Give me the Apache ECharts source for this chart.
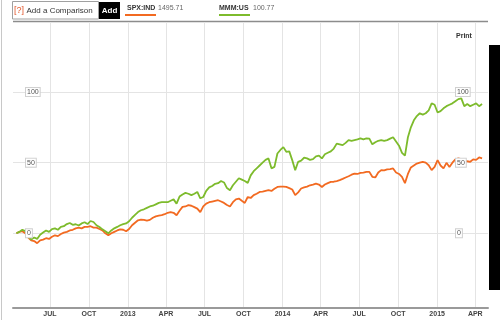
<!DOCTYPE html>
<html>
<head>
<meta charset="utf-8">
<script src="https://cdn.jsdelivr.net/npm/echarts@6/dist/echarts.min.js"></script>
<style>
html,body{margin:0;padding:0;background:#fff;}
#chart{width:500px;height:320px;}
</style>
</head>
<body>
<div id="chart"></div>
<script>
const dates = [
'2012-04-13','2012-04-20','2012-04-27','2012-05-04','2012-05-11','2012-05-18','2012-05-25','2012-06-01','2012-06-08','2012-06-15',
'2012-06-22','2012-06-29','2012-07-06','2012-07-13','2012-07-20','2012-07-27','2012-08-03','2012-08-10','2012-08-17','2012-08-24',
'2012-08-31','2012-09-07','2012-09-14','2012-09-21','2012-09-28','2012-10-05','2012-10-12','2012-10-19','2012-10-26','2012-11-02',
'2012-11-09','2012-11-16','2012-11-23','2012-11-30','2012-12-07','2012-12-14','2012-12-21','2012-12-28',
'2013-01-04','2013-01-11','2013-01-18','2013-01-25','2013-02-01','2013-02-08','2013-02-15','2013-02-22','2013-03-01','2013-03-08',
'2013-03-15','2013-03-22','2013-03-29','2013-04-05','2013-04-12','2013-04-19','2013-04-26','2013-05-03','2013-05-10','2013-05-17',
'2013-05-24','2013-05-31','2013-06-07','2013-06-14','2013-06-21','2013-06-28','2013-07-05','2013-07-12','2013-07-19','2013-07-26',
'2013-08-02','2013-08-09','2013-08-16','2013-08-23','2013-08-30','2013-09-06','2013-09-13','2013-09-20','2013-09-27','2013-10-04',
'2013-10-11','2013-10-18','2013-10-25','2013-11-01','2013-11-08','2013-11-15','2013-11-22','2013-11-29','2013-12-06','2013-12-13',
'2013-12-20','2013-12-27',
'2014-01-03','2014-01-10','2014-01-17','2014-01-24','2014-01-31','2014-02-07','2014-02-14','2014-02-21','2014-02-28','2014-03-07',
'2014-03-14','2014-03-21','2014-03-28','2014-04-04','2014-04-11','2014-04-18','2014-04-25','2014-05-02','2014-05-09','2014-05-16',
'2014-05-23','2014-05-30','2014-06-06','2014-06-13','2014-06-20','2014-06-27','2014-07-04','2014-07-11','2014-07-18','2014-07-25',
'2014-08-01','2014-08-08','2014-08-15','2014-08-22','2014-08-29','2014-09-05','2014-09-12','2014-09-19','2014-09-26','2014-10-03',
'2014-10-10','2014-10-17','2014-10-24','2014-10-31','2014-11-07','2014-11-14','2014-11-21','2014-11-28','2014-12-05','2014-12-12',
'2014-12-19','2014-12-26',
'2015-01-02','2015-01-09','2015-01-16','2015-01-23','2015-01-30','2015-02-06','2015-02-13','2015-02-20','2015-02-27','2015-03-06',
'2015-03-13','2015-03-20','2015-03-27','2015-04-03','2015-04-10','2015-04-17'
];
const spxValues = [
0,1,1.5,0,-3,-5,-5.5,-7,-5,-4.5,
-3.5,-4,-2.5,-1.4,-2,-0.5,0.5,1,2,2.5,
3.5,4,3.5,4.5,4.5,5,4,4,3,2,
0,-1.4,0,1,2,2.8,2.5,1.4,
3,5.7,7.5,9.2,9.7,9.5,9,9.5,11,12,
12.5,12.8,13.5,14.5,15,14.5,12.8,16,18.7,19,
19.9,19.5,18.5,17.5,15,19,21,22,22.5,23,
23.4,22.5,21.5,20,19,22,24,24.6,23,21.5,
25.7,25,27,28,29.3,29.5,30,30.5,30,31.5,
32.8,33,
33,32.8,32,31,27,29,31.7,32.5,33,34,
34.5,35.2,34.5,32.8,34.5,35.5,36.4,36.5,37,37.6,
38.5,39.5,40.4,41.5,42.3,42,42.8,43,43.5,43.5,
40,39.5,43,44.7,44.5,45.2,45.5,45.9,43,42,
40,35.5,42,46.6,48,49.4,50,50.6,50,48.2,
44.7,47,
51.8,48,46,49.9,47,50,52.3,53,52.5,51.5,
51,50.6,52.3,52,53.7,53
];
const mmmValues = [
0,1,2.5,1.5,-2,-4.5,-3,-4,-1,0.5,
2,1,3,3.5,2.5,4.5,5,6.5,7.3,6,
6.4,5.5,7,7.8,6.5,8.7,8,5.7,4.5,2.8,
1.5,0,2,3.5,4.5,5.7,6.5,7,
8.5,11,13,15,16.3,17,18,19,19.5,20.5,
21.5,22,22,22,23,24,21,26,27.5,28.6,
28,27,28,29.3,24.8,25.7,30,32.5,33.5,35,
35.5,37,36,32,30.5,34,36.5,39,38,37,
35.7,41,44,46,48,50,52,53,46,47,
56.5,59,
61,57.7,58,51.8,44.7,50.6,51.5,53.5,53,52,
52.5,54.5,55,53,56,57,58,60,63.5,63,
62.4,64,66,65.5,66,66.5,67.2,66.5,67.2,67,
63,64.5,65.5,66,65.5,66,67,68,65,62,
57,55,68,75,80,83,85,84,85,87,
92,91,
85.5,86.5,88.5,90,91,92,93.5,95,95.5,90,
91.5,90,91,92,90,91.5
];
const xTickDates = ['2012-07-01','2012-10-01','2013-01-01','2013-04-01','2013-07-01','2013-10-01','2014-01-01','2014-04-01','2014-07-01','2014-10-01','2015-01-01','2015-04-01'];
const xTickLabels = ['JUL','OCT','2013','APR','JUL','OCT','2014','APR','JUL','OCT','2015','APR'];
const yTickValues = [0, 50, 100];
const yTickLabels = ['0', '50', '100'];
const seriesNames = ['SPX:IND', 'MMM:US'];
const lastPrices = ['1495.71', '100.77'];

function ts(s) { const p = s.split('-'); return new Date(+p[0], +p[1] - 1, +p[2]).getTime(); }
const xTickTs = xTickDates.map(ts);
const ORANGE = '#f26a21';
const GREEN = '#7dbb2c';
const Y_MIN = -52.9, Y_MAX = 149.6;
const NARROW = 'Liberation Sans Narrow, Arial Narrow, Liberation Sans, Arial, sans-serif';
const SANS = 'Liberation Sans, Arial, sans-serif';

function xLabel(v) {
  for (let i = 0; i < xTickTs.length; i++) if (Math.abs(xTickTs[i] - v) < 43200000 * 3) return xTickLabels[i];
  return '';
}
function yLabel(v) {
  const i = yTickValues.indexOf(Math.round(v));
  return i >= 0 ? yTickLabels[i] : '';
}
const yLabelCommon = {
  show: true, inside: true, align: 'left', customValues: yTickValues, formatter: yLabel,
  fontFamily: SANS, fontSize: 7, lineHeight: 8, color: '#555',
  backgroundColor: '#fff', borderColor: '#d0d0d0', borderWidth: 1, padding: [0, 1]
};

const chart = echarts.init(document.getElementById('chart'), null, { renderer: 'canvas' });
chart.setOption({
  animation: false,
  backgroundColor: '#fff',
  grid: { left: 13, right: 12, top: 22, bottom: 12, containLabel: false },
  xAxis: {
    type: 'value',
    min: ts('2012-04-05'), max: ts('2015-05-01'),
    axisLine: { show: true, onZero: false, lineStyle: { color: '#9a9a9a', width: 2 } },
    axisTick: { show: false, customValues: xTickTs },
    axisLabel: {
      show: true, customValues: xTickTs, formatter: xLabel, margin: 3,
      fontFamily: SANS, fontSize: 7, fontWeight: 'bold', color: '#444',
      hideOverlap: false
    },
    splitLine: { show: true, lineStyle: { color: '#e4e4e4', width: 1 } }
  },
  yAxis: [
    { type: 'value', position: 'left', min: Y_MIN, max: Y_MAX, z: 10,
      axisLine: { show: false }, axisTick: { show: false, customValues: yTickValues },
      axisLabel: Object.assign({}, yLabelCommon, { margin: 13 }),
      splitLine: { show: false } },
    { type: 'value', position: 'right', min: Y_MIN, max: Y_MAX, z: 10,
      axisLine: { show: false }, axisTick: { show: false, customValues: yTickValues },
      axisLabel: Object.assign({}, yLabelCommon, { margin: 32 }),
      splitLine: { show: false } },
    { type: 'value', position: 'left', min: Y_MIN, max: Y_MAX, z: 0,
      axisLine: { show: false }, axisTick: { show: false, customValues: yTickValues },
      axisLabel: { show: false },
      splitLine: { show: true, lineStyle: { color: '#e4e4e4', width: 1 } } }
  ],
  series: [
    { name: seriesNames[0], type: 'line', yAxisIndex: 0, showSymbol: false, symbol: 'none',
      lineStyle: { color: ORANGE, width: 1.8 }, itemStyle: { color: ORANGE },
      data: dates.map((d, i) => [ts(d), spxValues[i]]) },
    { name: seriesNames[1], type: 'line', yAxisIndex: 0, showSymbol: false, symbol: 'none',
      lineStyle: { color: GREEN, width: 1.8 }, itemStyle: { color: GREEN },
      data: dates.map((d, i) => [ts(d), mmmValues[i]]) }
  ],
  graphic: [
    { type: 'line', shape: { x1: 1.5, y1: 0, x2: 1.5, y2: 320 }, style: { stroke: '#c8c8c8', lineWidth: 1 } },
    { type: 'line', shape: { x1: 13, y1: 21.5, x2: 488, y2: 21.5 }, style: { stroke: '#8c8c8c', lineWidth: 1.5 } },
    { type: 'rect', shape: { x: 12.5, y: 1.5, width: 86, height: 17.5 }, style: { fill: '#fff', stroke: '#a0a0a0', lineWidth: 1 } },
    { type: 'text', x: 14, y: 10.5, style: { text: '[?]', fill: '#e2572b', font: '9px ' + SANS, verticalAlign: 'middle' } },
    { type: 'text', x: 26.5, y: 10.5, style: { text: 'Add a Comparison', fill: '#333', font: '8px ' + SANS, verticalAlign: 'middle' } },
    { type: 'rect', shape: { x: 99, y: 2, width: 21, height: 17 }, style: { fill: '#000' } },
    { type: 'text', x: 109.5, y: 10.5, style: { text: 'Add', fill: '#fff', font: 'bold 8px ' + NARROW, align: 'center', verticalAlign: 'middle' } },
    { type: 'text', x: 127, y: 8.5, style: { text: seriesNames[0], fill: '#333', font: 'bold 7px ' + NARROW, verticalAlign: 'middle' } },
    { type: 'text', x: 158, y: 8.5, style: { text: lastPrices[0], fill: '#666', font: '7px ' + NARROW, verticalAlign: 'middle' } },
    { type: 'rect', shape: { x: 125, y: 14, width: 31, height: 2 }, style: { fill: ORANGE } },
    { type: 'text', x: 219, y: 8.5, style: { text: seriesNames[1], fill: '#333', font: 'bold 7px ' + NARROW, verticalAlign: 'middle' } },
    { type: 'text', x: 253, y: 8.5, style: { text: lastPrices[1], fill: '#666', font: '7px ' + NARROW, verticalAlign: 'middle' } },
    { type: 'rect', shape: { x: 219, y: 14, width: 31, height: 2 }, style: { fill: GREEN } },
    { type: 'text', x: 456, y: 36, style: { text: 'Print', fill: '#333', font: 'bold 7px ' + SANS, verticalAlign: 'middle' } },
    { type: 'rect', shape: { x: 489, y: 45, width: 11, height: 245 }, style: { fill: '#000' } }
  ]
});
</script>
</body>
</html>
